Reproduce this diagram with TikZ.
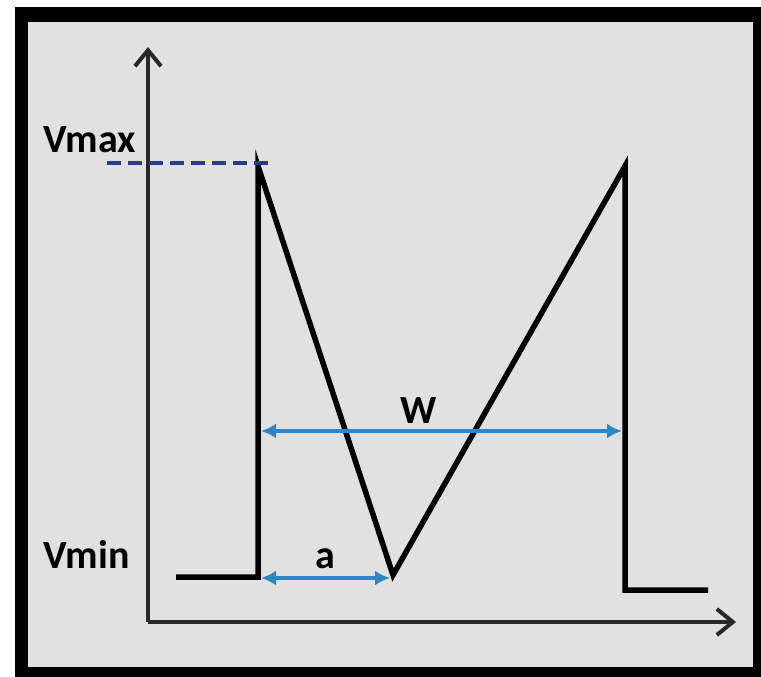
\documentclass[tikz,border=0pt]{standalone}
\usepackage{fontspec}
\setmainfont{Carlito}
\usepackage{xcolor}
\usetikzlibrary{arrows.meta, positioning, calc}
\definecolor{panelgray}{RGB}{224, 225, 224}
\definecolor{axisgray}{RGB}{40, 40, 40}
\definecolor{levelblue}{RGB}{40, 60, 140}
\definecolor{spanblue}{RGB}{46, 134, 196}

\begin{document}
\begin{tikzpicture}[x=1pt, y=-1pt,
    axis/.style={draw=axisgray, line width=3.5pt, -{Straight Barb[length=16pt, width=26pt, line width=4pt]}},
    wave/.style={draw=black, line width=5.5pt, line join=miter},
    span/.style={draw=spanblue, line width=4.5pt, {Latex[length=15pt, width=15pt]}-{Latex[length=15pt, width=15pt]}, shorten <=1pt, shorten >=1pt},
    label/.style={font=\fontsize{40}{44}\selectfont\bfseries, inner sep=0pt}]
    \useasboundingbox (0,0) rectangle (761,677);
    % frame
    \fill[white] (0,0) rectangle (761,677);
    \fill[black] (15,7) rectangle (761,677);
    \fill[panelgray] (28,22) rectangle (753,667);

    % axes
    \coordinate (origin) at (148,622);
    \coordinate (ytip) at (148,47);
    \coordinate (xtip) at (736,622);
    \draw[axis] (origin) -- (ytip);
    \draw[axis] (origin) -- (xtip);

    % pulse shape
    \coordinate (start) at (176,577);
    \coordinate (rise) at (258,577);
    \coordinate (peak1) at (258,166);
    \coordinate (valley) at (393,575);
    \coordinate (peak2) at (625,166);
    \coordinate (fall) at (625,590);
    \coordinate (stop) at (708,590);
    \draw[wave] (start) -- (rise) -- (peak1) -- (valley) -- (peak2) -- (fall) -- (stop);

    % levels
    \coordinate (vmaxl) at (107,163);
    \coordinate (vmaxr) at (272,163);
    \draw[levelblue, line width=4pt, dash pattern=on 14pt off 7pt] (vmaxl) -- (vmaxr);
    \node[label, anchor=base west] (vmax) at (43,152) {Vmax};
    \node[label, anchor=base west] (vmin) at (43,568) {Vmin};

    % widths
    \coordinate (wl) at (260,431);
    \coordinate (wr) at (623,431);
    \coordinate (al) at (260,578);
    \coordinate (ar) at (391,578);
    \draw[span] (wl) -- (wr);
    \draw[span] (al) -- (ar);
    \node[label, anchor=base] (wlab) at (419,423) {W};
    \node[label, anchor=base] (alab) at (325,568) {a};
\end{tikzpicture}
\end{document}
